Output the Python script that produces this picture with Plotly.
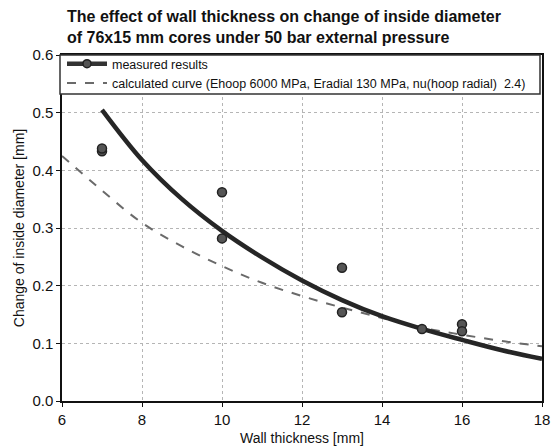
import plotly.graph_objects as go

# measured data
meas_x = [7, 7, 10, 10, 13, 13, 15, 16, 16]
meas_y = [0.433, 0.438, 0.362, 0.282, 0.231, 0.154, 0.125, 0.133, 0.121]

# trend through measured results (solid)
fit_x = [7, 8, 9, 10, 11, 12, 13, 14, 15, 16, 17, 18]
fit_y = [0.505, 0.418, 0.350, 0.295, 0.249, 0.209, 0.175, 0.147, 0.125, 0.106, 0.088, 0.073]

# calculated curve (dashed)
calc_x = [6, 7, 8, 9, 10, 11, 12, 13, 14, 15, 16, 17, 18]
calc_y = [0.425, 0.365, 0.309, 0.268, 0.234, 0.205, 0.182, 0.162, 0.144, 0.127, 0.115, 0.104, 0.095]

title_text = ("The effect of wall thickness on change of inside diameter<br>"
              "of 76x15 mm cores under 50 bar external pressure")
x_title = "Wall thickness [mm]"
y_title = "Change of inside diameter [mm]"
leg1 = "measured results"
leg2 = "calculated curve (Ehoop 6000 MPa, Eradial 130 MPa, nu(hoop radial)  2.4)"

W, H = 553, 448
ML, MR, MT, MB = 62, 11, 55, 47
PH = H - MT - MB
PW = W - ML - MR

fig = go.Figure()
fig.add_trace(go.Scatter(x=calc_x, y=calc_y, mode="lines",
                         line=dict(color="#6a6a6a", width=2, dash="dash", shape="spline"),
                         showlegend=False))
fig.add_trace(go.Scatter(x=fit_x, y=fit_y, mode="lines",
                         line=dict(color="#262626", width=4.5, shape="spline"),
                         showlegend=False))
fig.add_trace(go.Scatter(x=meas_x, y=meas_y, mode="markers",
                         marker=dict(size=9, color="#555555", line=dict(color="#222222", width=1.5)),
                         showlegend=False))
# legend entries
fig.add_trace(go.Scatter(x=[None], y=[None], mode="lines+markers", name=leg1,
                         line=dict(color="#333333", width=4.5),
                         marker=dict(size=8, color="#555555", line=dict(color="#222222", width=1.5))))
fig.add_trace(go.Scatter(x=[None], y=[None], mode="lines", name=leg2,
                         line=dict(color="#6a6a6a", width=2, dash="dash")))

# legend frame spanning the plot width
fig.add_shape(type="rect", xref="paper", yref="paper",
              x0=-2 / PW, x1=1 - 2 / PW, y0=1 - 39 / PH, y1=1,
              fillcolor="white", line=dict(color="#333333", width=1.5), layer="above")

fig.add_annotation(text=title_text, xref="paper", yref="paper",
                   x=(65 - ML) / PW, y=1 + (MT - 6) / PH, xanchor="left", yanchor="top",
                   align="left", showarrow=False,
                   font=dict(family="Liberation Sans, Arial, sans-serif", size=16, color="#111111", weight="bold"))

fig.update_layout(
    width=W, height=H,
    margin=dict(l=ML, r=MR, t=MT, b=MB),
    paper_bgcolor="white", plot_bgcolor="white",
    font=dict(family="Liberation Sans, Arial, sans-serif", color="#111111"),
    legend=dict(x=0, y=1 + 6 / PH, xanchor="left", yanchor="top", orientation="v",
                bgcolor="rgba(0,0,0,0)", borderwidth=0,
                font=dict(size=12.5, color="#111111"), tracegroupgap=0,
                itemwidth=40),
)
fig.update_xaxes(range=[6, 18], dtick=2, title=dict(text=x_title, font=dict(size=14), standoff=6),
                 automargin=False,
                 tickfont=dict(size=15), showline=True, linecolor="#111111", linewidth=1.5, mirror=True,
                 ticks="outside", ticklen=4, tickcolor="#111111",
                 showgrid=True, gridcolor="#b5b5b5", griddash="dot", gridwidth=1, zeroline=False)
fig.update_yaxes(range=[0, 0.6], dtick=0.1, tickformat=".1f", title=dict(text=y_title, font=dict(size=14), standoff=4),
                 automargin=False,
                 tickfont=dict(size=15), showline=True, linecolor="#111111", linewidth=1.5, mirror=True,
                 ticks="outside", ticklen=4, tickcolor="#111111",
                 showgrid=True, gridcolor="#b5b5b5", griddash="dot", gridwidth=1, zeroline=False)

fig.write_html("out.html")
